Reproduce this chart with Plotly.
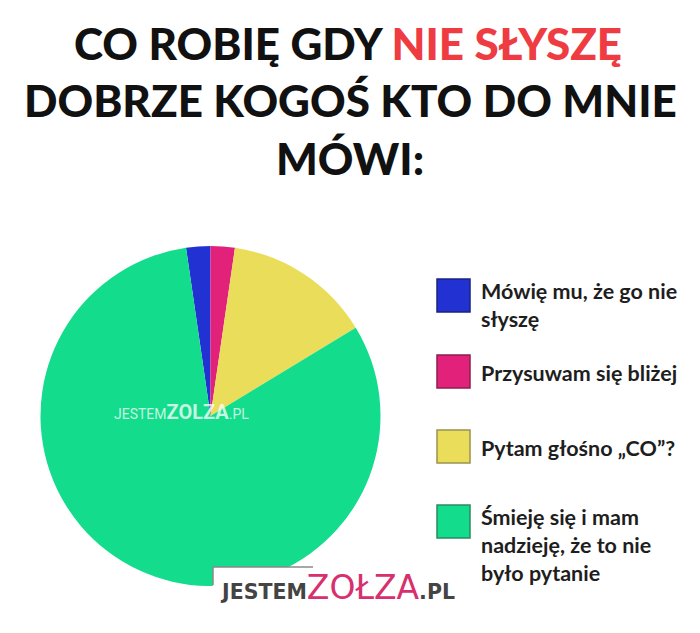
import plotly.graph_objects as go

labels = ["Mówię mu, że go nie<br>słyszę", "Przysuwam się bliżej", "Pytam głośno „CO”?",
          "Śmieję się i mam<br>nadzieję, że to nie<br>było pytanie"]
values = [2.3, 2.3, 14.0, 81.4]
colors = ["#2232d2", "#e2217a", "#e9dd5a", "#13dc8c"]
borders = ["#1a237e", "#8a1f4e", "#9a9350", "#2a8a60"]

W, H = 700, 633
OX, OY = 8, 8  # page body margin compensation


def px(x):
    return (x - OX) / W


def py(y):
    return 1 - (y - OY) / H


fig = go.Figure()
fig.add_trace(go.Pie(
    labels=labels, values=values, sort=False, direction="clockwise",
    rotation=-(values[0] + values[1]) / 100 * 360 / 2,
    marker=dict(colors=colors, line=dict(width=0)),
    textinfo="none", hoverinfo="label+percent", showlegend=False,
    domain=dict(x=[px(40), px(381)], y=[py(586), py(246)]),
))

annotations = []
shapes = []

# title
title_lines = [
    ("CO ROBIĘ GDY <span style='color:#ef3b42'>NIE SŁYSZĘ</span>", 348, 43),
    ("DOBRZE KOGOŚ KTO DO MNIE", 350, 100),
    ("MÓWI:", 350, 158),
]
for txt, cx, cy in title_lines:
    annotations.append(dict(text=txt, x=px(cx), y=py(cy), xref="paper", yref="paper",
                            xanchor="center", yanchor="middle", showarrow=False,
                            font=dict(family="Lato", size=44, color="#111111", weight=900)))

# legend
sq_tops = [279, 355, 430, 505]
sq = 33
for i, lab in enumerate(labels):
    top = sq_tops[i]
    shapes.append(dict(type="rect", xref="paper", yref="paper",
                       x0=px(437), x1=px(437 + sq), y0=py(top + sq), y1=py(top),
                       fillcolor=colors[i], line=dict(color=borders[i], width=1.5)))
    nlines = lab.count("<br>") + 1
    if nlines == 1:
        y, ya = py(top + sq / 2 + 1), "middle"
    else:
        y, ya = py(top - 3), "top"
    annotations.append(dict(text=lab, x=px(479), y=y, xref="paper", yref="paper",
                            xanchor="left", yanchor=ya, align="left", showarrow=False,
                            font=dict(family="Lato", size=21.5, color="#1e1e1e", weight=700)))

# watermark in pie
annotations.append(dict(
    text="<span style='font-size:14px'>JESTEM</span><b>ZOLZA</b><span style='font-size:14px'>.PL</span>",
    x=px(181), y=py(412), xref="paper", yref="paper", xanchor="center", yanchor="middle",
    showarrow=False, font=dict(family="Roboto", size=20, color="rgba(255,255,255,0.75)")))

# bottom logo
shapes.append(dict(type="rect", xref="paper", yref="paper", x0=px(213), x1=px(470),
                   y0=py(615), y1=py(567), fillcolor="white", line=dict(width=0), layer="above"))
shapes.append(dict(type="line", xref="paper", yref="paper", x0=px(213), x1=px(313),
                   y0=py(567), y1=py(567), line=dict(color="#8a8a8a", width=1.5), layer="above"))
shapes.append(dict(type="line", xref="paper", yref="paper", x0=px(213), x1=px(213),
                   y0=py(567), y1=py(585), line=dict(color="#8a8a8a", width=1.5), layer="above"))
annotations.append(dict(
    text="<b>JESTEM</b><span style='color:#d82f6e;font-size:33px'>ZOŁZA</span><b>.PL</b>",
    x=px(218), y=py(587), xref="paper", yref="paper", xanchor="left", yanchor="middle",
    showarrow=False, font=dict(family="DejaVu Sans", size=20.5, color="#444444")))

fig.update_layout(
    width=W, height=H, margin=dict(l=0, r=0, t=0, b=0),
    paper_bgcolor="white", plot_bgcolor="white",
    annotations=annotations, shapes=shapes,
)

fig.write_html("out.html")
